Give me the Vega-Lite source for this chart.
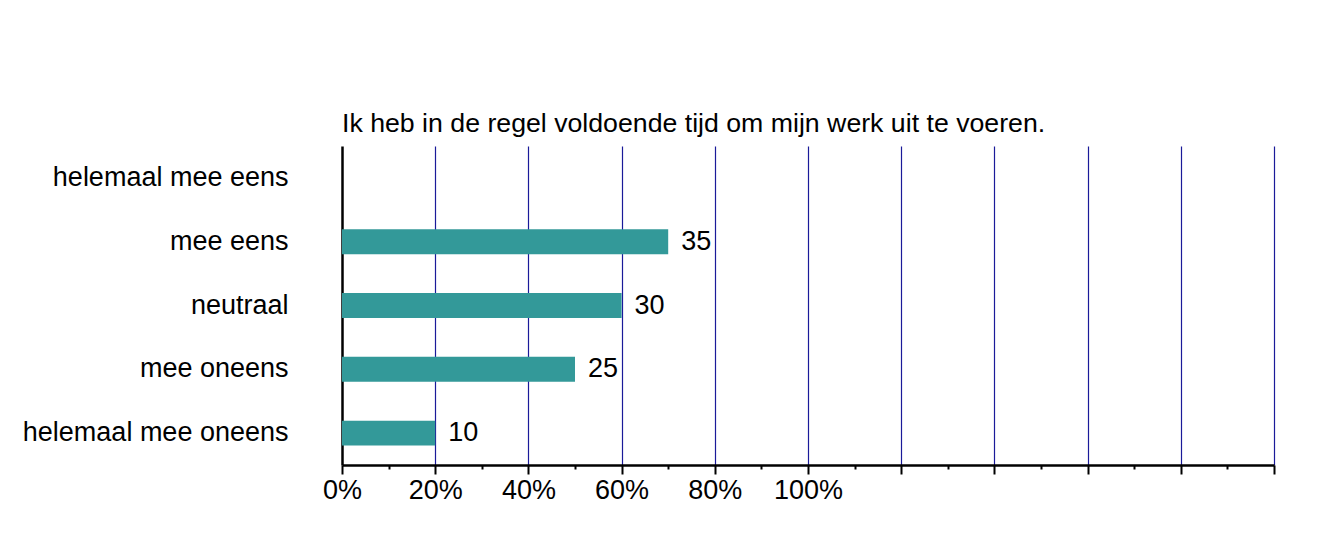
{
  "$schema": "https://vega.github.io/schema/vega-lite/v6.json",
  "autosize": "none",
  "width": 932,
  "height": 319,
  "padding": {"left": 342, "top": 146, "right": 56, "bottom": 71},
  "background": "white",
  "config": {
    "font": "Liberation Sans",
    "view": {"stroke": null}
  },
  "title": {
    "text": "Ik heb in de regel voldoende tijd om mijn werk uit te voeren.",
    "anchor": "start",
    "frame": "group",
    "baseline": "alphabetic",
    "offset": -13,
    "fontSize": 26.7,
    "fontWeight": "normal",
    "color": "black",
    "font": "Liberation Sans"
  },
  "data": {
    "values": [
      {"antwoord": "helemaal mee eens", "aantal": 0},
      {"antwoord": "mee eens", "aantal": 35},
      {"antwoord": "neutraal", "aantal": 30},
      {"antwoord": "mee oneens", "aantal": 25},
      {"antwoord": "helemaal mee oneens", "aantal": 10}
    ]
  },
  "encoding": {
    "y": {
      "field": "antwoord",
      "type": "nominal",
      "sort": null,
      "scale": {"paddingInner": 0.61, "paddingOuter": 0.305},
      "axis": {
        "title": null,
        "ticks": false,
        "labelPadding": 54,
        "labelFontSize": 27,
        "labelColor": "black",
        "labelFont": "Liberation Sans",
        "domainColor": "black",
        "domainWidth": 2.5,
        "grid": false,
        "labelLimit": 400
      }
    },
    "x": {
      "field": "aantal",
      "type": "quantitative",
      "scale": {"domain": [0, 100], "nice": false},
      "axis": {
        "title": null,
        "values": [0, 5, 10, 15, 20, 25, 30, 35, 40, 45, 50, 55, 60, 65, 70, 75, 80, 85, 90, 95, 100],
        "labelExpr": "datum.value % 10 == 0 && datum.value <= 50 ? (datum.value * 2) + '%' : ''",
        "labelFontSize": 27,
        "labelColor": "black",
        "labelFont": "Liberation Sans",
        "labelPadding": 3,
        "labelFlush": false,
        "labelOverlap": false,
        "domainColor": "black",
        "domainWidth": 2.5,
        "tickColor": "black",
        "tickWidth": 2,
        "tickSize": {"condition": {"test": "datum.value % 10 != 0", "value": 4}, "value": 9},
        "grid": true,
        "gridColor": "#1a1a99",
        "gridWidth": 1.2,
        "gridOpacity": {"condition": {"test": "datum.value % 10 != 0 || datum.value == 0", "value": 0}, "value": 1}
      }
    }
  },
  "layer": [
    {
      "mark": {"type": "bar", "color": "#339999"}
    },
    {
      "transform": [{"filter": "datum.aantal > 0"}],
      "mark": {"type": "text", "align": "left", "baseline": "middle", "dx": 13, "fontSize": 27, "color": "black", "font": "Liberation Sans"},
      "encoding": {"text": {"field": "aantal", "type": "quantitative"}}
    }
  ]
}
